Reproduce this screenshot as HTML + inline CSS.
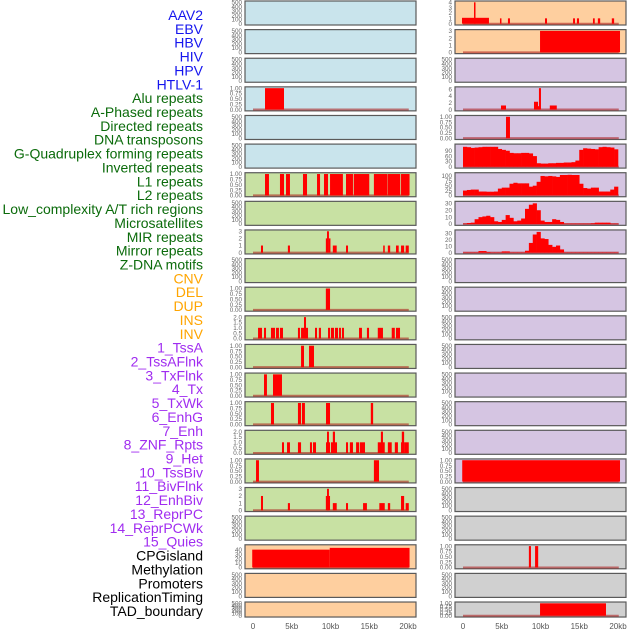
<!DOCTYPE html>
<html><head><meta charset="utf-8"><style>
html,body{margin:0;padding:0;background:#fff;}
svg{display:block;font-family:"Liberation Sans",sans-serif;}
</style></head><body>
<svg id="chart" width="630" height="630" viewBox="0 0 630 630" xmlns="http://www.w3.org/2000/svg"></svg>
<script>
const trackLabels = ["AAV2","EBV","HBV","HIV","HPV","HTLV-1","Alu repeats","A-Phased repeats","Directed repeats","DNA transposons","G-Quadruplex forming repeats","Inverted repeats","L1 repeats","L2 repeats","Low_complexity A/T rich regions","Microsatellites","MIR repeats","Mirror repeats","Z-DNA motifs","CNV","DEL","DUP","INS","INV","1_TssA","2_TssAFlnk","3_TxFlnk","4_Tx","5_TxWk","6_EnhG","7_Enh","8_ZNF_Rpts","9_Het","10_TssBiv","11_BivFlnk","12_EnhBiv","13_ReprPC","14_ReprPCWk","15_Quies","CPGisland","Methylation","Promoters","ReplicationTiming","TAD_boundary"];
const labelGroups = [6,13,5,15,5];
const labelColors = ["#1515ee","#0b6b0b","#ffa500","#a02cf0","#000000"];
const xTicks = [0,5,10,15,20];
const xTickLabels = ["0","5kb","10kb","15kb","20kb"];
const leftBg = ["b","b","b","b","b","b","g","g","g","g","g","g","g","g","g","g","g","g","g","o","o","o"];
const rightBg = ["o","o","p","p","p","p","p","p","p","p","p","p","p","p","p","p","p","y","y","y","y","y"];
const T1 = ["0.00","0.25","0.50","0.75","1.00"];
const T2 = ["0.0","0.5","1.0","1.5","2.0"];
const T500 = ["0","100","200","300","400","500"];
// panel axes: [ymax, tickValues, tickLabels]
const leftAxes = {3:[1,[0,.25,.5,.75,1],T1],6:[1,[0,.25,.5,.75,1],T1],8:[3,[0,1,2,3],["0","1","2","3"]],10:[1,[0,.25,.5,.75,1],T1],11:[2,[0,.5,1,1.5,2],T2],12:[1,[0,.25,.5,.75,1],T1],13:[1,[0,.25,.5,.75,1],T1],14:[1,[0,.25,.5,.75,1],T1],15:[2,[0,.5,1,1.5,2],T2],16:[1,[0,.25,.5,.75,1],T1],17:[3,[0,1,2,3],["0","1","2","3"]],19:[48,[0,10,20,30,40],["0","10","20","30","40"]]};
const rightAxes = {0:[4,[0,1,2,3,4],["0","1","2","3","4"]],1:[3,[0,1,2,3],["0","1","2","3"]],3:[6.3,[0,2,4,6],["0","2","4","6"]],4:[1,[0,.25,.5,.75,1],T1],5:[120,[0,30,60,90],["0","30","60","90"]],6:[110,[0,25,50,75,100],["0","25","50","75","100"]],7:[31,[0,10,20,30],["0","10","20","30"]],8:[33,[0,10,20,30],["0","10","20","30"]],16:[1,[0,.25,.5,.75,1],T1],19:[1,[0,.25,.5,.75,1],T1],21:[1,[0,.25,.5,.75,1],T1]};
// segments [startKb, endKb, value]
const leftBars = {
 3:[[1.55,4.0,1]],
 6:[[1.55,2.06,1],[3.48,4.0,1],[4.26,4.77,1],[6.45,6.97,1],[8.26,8.65,1],[9.16,9.68,1],[9.94,11.6,1],[12.0,12.9,1],[13.0,15.0,1],[15.6,17.3,1],[17.35,19.0,1],[19.1,20.2,1]],
 8:[[1.03,1.29,1],[4.5,4.77,1],[9.4,9.55,2],[9.55,9.8,3],[9.8,9.94,2],[10.3,10.8,1],[12.0,12.26,1],[16.8,17.0,1],[17.4,17.7,1],[18.45,18.8,1],[19.1,19.5,1],[19.7,20.1,1]],
 10:[[9.4,9.94,1]],
 11:[[0.65,1.16,1],[1.42,1.68,1],[2.32,2.84,1],[2.97,3.35,1],[3.48,3.87,1],[5.8,6.06,1],[6.2,7.1,1],[6.58,6.84,2],[8.0,8.26,1],[8.5,8.77,1],[9.68,9.94,1],[10.06,10.45,1],[10.58,10.97,1],[11.1,11.35,1],[11.48,11.74,1],[13.68,14.06,1],[14.7,14.97,1],[16.1,16.77,1],[17.9,18.3,1],[18.45,18.97,1]],
 12:[[6.2,6.58,1],[7.23,7.87,1]],
 13:[[1.42,1.8,1],[2.58,3.74,1]],
 14:[[2.32,2.71,1],[5.8,6.2,1],[6.32,6.7,1],[9.42,9.94,1],[15.2,15.5,1]],
 15:[[3.74,4.0,1],[4.39,4.77,1],[5.8,6.2,1],[7.35,7.61,1],[7.74,8.13,1],[9.42,9.94,1],[9.55,9.8,2],[10.06,10.84,1],[10.3,10.58,2],[12.0,12.26,1],[12.5,12.9,1],[13.3,13.7,1],[13.8,14.45,1],[16.1,17.0,1],[16.5,16.77,2],[17.4,17.9,1],[18.3,18.7,1],[19.1,19.6,1],[19.2,19.5,2],[19.6,20.1,1]],
 16:[[0.39,0.77,1],[15.6,16.26,1]],
 17:[[1.03,1.29,2],[4.5,4.77,1],[9.4,9.94,2],[9.55,9.8,3],[10.3,10.8,1],[12.0,12.26,1],[14.2,14.7,1],[16.3,17.0,1],[17.4,17.7,1],[19.1,19.5,2],[19.7,20.1,1]],
 19:[[-0.1,9.9,40],[9.9,20.2,44]]
};
const rightBars = {
 0:[[-0.13,3.35,1.1],[1.42,1.55,4],[4.77,4.9,1],[5.8,6.06,1],[10.58,10.84,1],[14.2,14.45,1],[14.7,14.97,1],[16.77,17.0,1],[17.4,17.7,1],[19.2,19.5,1]],
 1:[[9.94,20.26,3]],
 3:[[4.9,5.55,1.2],[9.16,9.68,2.3],[9.68,9.8,1],[9.8,10.06,6.3],[11.2,12.1,1.2]],
 4:[[5.55,6.06,1]],
 16:[[-0.1,20.26,1]],
 19:[[8.5,8.77,1],[9.3,9.7,1]],
 21:[[9.94,18.45,1]]
};
// binned profiles (0.5 kb bins, 0-20 kb)
const gQuadProfile = [112,110,106,108,110,112,112,112,112,100,95,90,78,76,76,78,78,75,60,20,18,18,20,20,22,22,24,24,26,35,95,104,102,100,98,110,112,110,108,98];
const invertedProfile = [25,28,30,30,20,20,19,19,20,35,40,40,60,65,62,62,62,45,50,70,100,98,100,98,95,105,105,106,105,105,60,38,35,40,40,20,20,20,30,45];
const l1Profile = [0.5,1.5,2,7,10,11,12,10,4,3,6,13,9,4,5,8,22,28,30,20,5,3,3,7,6,3,0.5,0.5,0.5,0.5,0.5,0.5,0.5,1,2,2,2,2,0.5,0.5];
const l2Profile = [0.5,0.5,0.5,0.5,2.5,2.5,1,0.5,0.5,0.5,2,2,0.5,0.5,0.5,0.5,3,15,28,32,22,21,12,9,11,5,0.5,0.5,0.5,0.5,0.5,0.5,0.5,0.5,0.5,0.5,0.5,0.5,0.5,0.5];
const rightProfiles = {5:gQuadProfile,6:invertedProfile,7:l1Profile,8:l2Profile};

const NS="http://www.w3.org/2000/svg";
const svg=document.getElementById('chart');
const bgColors={b:"#c9e4ec",g:"#c8e1a3",o:"#fecf9f",p:"#d5c5e2",y:"#d0d0d0"};
const cols=[{x0:245,x1:416,z:253},{x0:455,x1:626,z:463}];
const KB=7.75;
function el(t,a){const e=document.createElementNS(NS,t);for(const k in a)e.setAttribute(k,a[k]);svg.appendChild(e);return e;}
function rowTop(r){return 1+r*28.62;}
function rowH(r){return r===21?15:24;}
function xs(c,kb){return cols[c].z+kb*KB;}

// labels
let li=0;
labelGroups.forEach((n,g)=>{for(let i=0;i<n;i++){
 const t=el('text',{x:203,y:15+li*13.86+5,'text-anchor':'end','font-size':'14',fill:labelColors[g]});
 t.textContent=trackLabels[li];
 
 
 li++;}});

function drawPanel(c,r,bg,axis,bars,profile){
 const top=rowTop(r),h=rowH(r),X0=cols[c].x0,X1=cols[c].x1;
 const rect=el('rect',{x:X0,y:top,width:X1-X0,height:h,fill:bgColors[bg],stroke:'#5a5a5a','stroke-width':1.2});
 
 
 const ymax=axis?axis[0]:500;
 const tv=axis?axis[1]:[0,100,200,300,400,500];
 const tl=axis?axis[2]:T500;
 const yb=top+h-1.3, yt=top+1.3;
 const ys=v=>yb-(v/ymax)*(yb-yt);
 tv.forEach((v,i)=>{
  const t=el('text',{x:X0-3,y:ys(v)+2.2,'text-anchor':'end','font-size':'6.3',fill:'#666'});
  t.textContent=tl[i];
  
  
 });
 if(bars||profile){
  const bl=el('line',{x1:xs(c,0),x2:xs(c,20.1),y1:ys(0),y2:ys(0),stroke:'rgba(170,20,20,0.55)','stroke-width':2});
  
  
 }
 if(profile){profile.forEach((v,i)=>{
  const b=el('rect',{x:xs(c,i*0.5),y:ys(v),width:0.5*KB+0.3,height:ys(0)-ys(v),fill:'#ff0000'});
  
  
 });}
 if(bars){bars.forEach(s=>{
  const b=el('rect',{x:xs(c,s[0]),y:ys(s[2]),width:Math.max(1.5,(s[1]-s[0])*KB),height:ys(0)-ys(s[2]),fill:'#ff0000'});
  
  
 });}
}
for(let r=0;r<22;r++){
 drawPanel(0,r,leftBg[r],leftAxes[r],leftBars[r],null);
 drawPanel(1,r,rightBg[r],rightAxes[r],rightBars[r],rightProfiles[r]);
}
[0,1].forEach(c=>{xTicks.forEach((v,i)=>{
 const t=el('text',{x:xs(c,v),y:629,'text-anchor':'middle','font-size':'8',fill:'#555'});
 t.textContent=xTickLabels[i];
 
 
});});
</script>
</body></html>
